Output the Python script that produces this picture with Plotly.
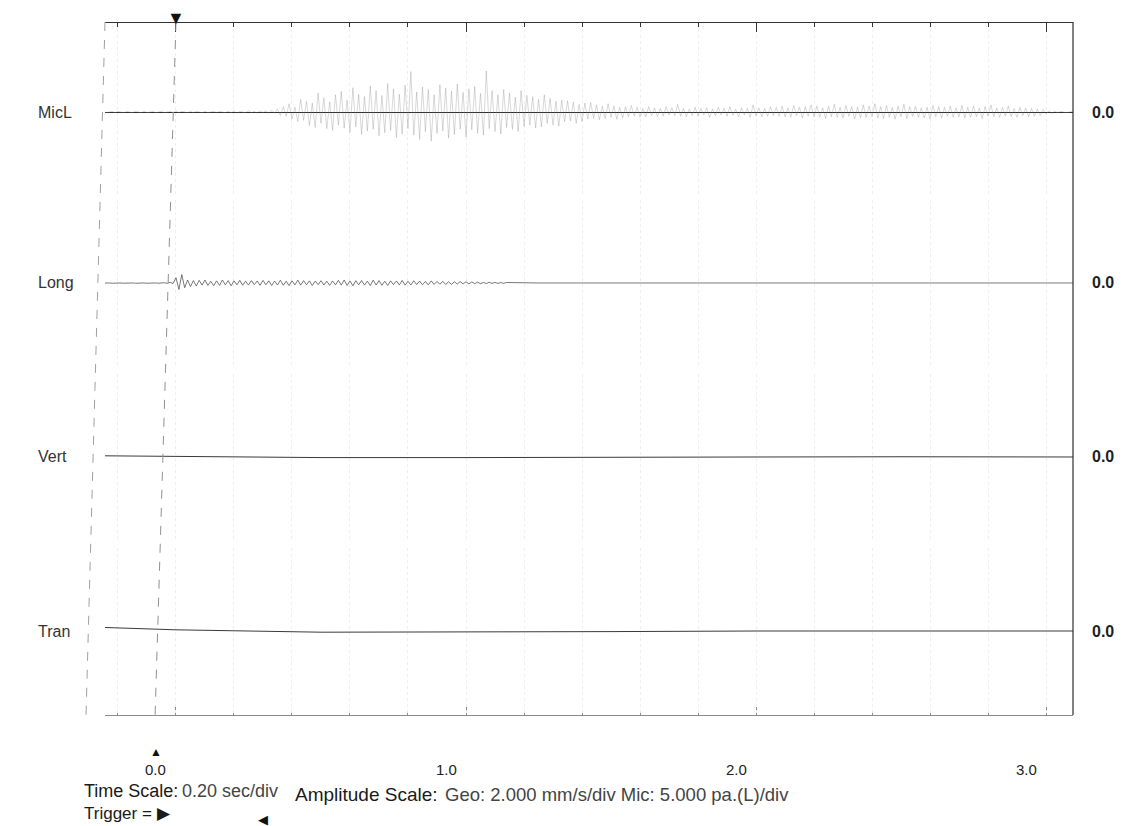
import numpy as np
import plotly.graph_objects as go

# ---------------- data ----------------
T_START = -0.25      # s, first sample
DT = 0.01            # s, sample spacing of the dense records

channels = ["MicL", "Long", "Vert", "Tran"]
zero_labels = ["0.0", "0.0", "0.0", "0.0"]
time_ticks = [0.0, 1.0, 2.0, 3.0]
time_tick_labels = ["0.0", "1.0", "2.0", "3.0"]

# MicL (pa), 336 samples from -0.25 s to 3.10 s
mic_v = [
    0.1, -0.1, 0.0, 0.1, -0.1, 0.1, 0.0, -0.1, 0.1, 0.0,
    -0.1, 0.1, 0.0, -0.1, 0.1, -0.1, 0.0, 0.1, -0.1, 0.0,
    0.1, -0.1, 0.0, 0.1, -0.1, 0.2, -0.1, 0.1, 0.0, -0.1,
    0.1, -0.1, 0.1, 0.0, -0.1, 0.1, -0.1, 0.0, 0.1, -0.1,
    0.1, 0.0, -0.1, 0.1, -0.1, 0.2, -0.2, 0.1, 0.0, -0.1,
    0.2, -0.1, 0.1, -0.2, 0.2, -0.1, 0.2, -0.2, 0.3, -0.2,
    0.5, -0.6, 0.9, -0.7, 1.4, -1.2, 0.8, -1.6, 2.1, -1.4,
    1.8, -2.3, 1.5, -2.6, 3.2, -1.9, 2.4, -2.8, 1.7, -3.1,
    2.9, -2.2, 3.5, -2.7, 2.0, -3.4, 4.1, -2.5, 3.0, -3.8,
    2.6, -3.2, 4.4, -2.9, 3.6, -4.0, 2.8, -3.5, 4.8, -3.1,
    3.9, -4.3, 3.0, -3.7, 4.5, -2.8, 6.8, -3.9, 3.4, -4.6,
    4.2, -3.3, 3.8, -4.9, 2.9, -3.6, 4.6, -3.2, 4.0, -4.4,
    3.5, -3.8, 4.7, -2.9, 3.3, -4.2, 3.9, -3.0, 4.3, -3.6,
    3.1, -3.9, 6.9, -2.8, 3.6, -3.3, 2.9, -3.7, 3.8, -2.6,
    3.2, -2.9, 2.5, -3.3, 3.6, -2.4, 2.8, -2.2, 2.6, -2.7,
    2.1, -2.5, 2.9, -1.9, 2.3, -2.2, 1.8, -2.4, 2.0, -1.6,
    1.9, -1.5, 1.7, -1.9, 1.3, -1.6, 1.5, -1.2, 1.6, -1.1,
    1.2, -1.3, 1.0, -1.1, 1.4, -0.9, 1.0, -1.2, 0.8, -1.0,
    0.9, -0.8, 1.1, -0.7, 0.8, -0.9, 0.6, -0.8, 0.9, -0.6,
    0.7, -0.8, 0.6, -0.7, 0.9, -0.5, 0.7, -0.6, 1.3, -0.7,
    0.6, -0.8, 0.5, -0.6, 0.8, -0.7, 0.6, -0.5, 0.7, -0.9,
    0.5, -0.6, 0.8, -0.5, 0.6, -0.7, 0.9, -0.6, 0.5, -0.8,
    0.7, -0.5, 0.6, -0.9, 1.2, -0.6, 0.7, -0.8, 0.6, -0.7,
    0.9, -0.6, 0.8, -0.7, 1.0, -0.8, 0.7, -0.9, 1.1, -0.6,
    0.8, -1.0, 0.9, -0.7, 1.2, -0.8, 1.0, -0.9, 0.7, -1.1,
    1.0, -0.8, 1.3, -0.9, 0.8, -1.0, 1.1, -0.7, 0.9, -1.2,
    0.8, -1.0, 1.2, -0.9, 1.0, -0.8, 1.4, -1.0, 0.9, -1.1,
    1.1, -0.9, 0.8, -1.2, 1.0, -0.8, 1.3, -1.1, 0.9, -0.7,
    1.0, -0.9, 0.7, -1.0, 0.8, -1.2, 1.1, -0.8, 0.9, -1.0,
    0.8, -0.7, 1.0, -0.9, 0.7, -0.8, 1.1, -1.0, 0.8, -0.9,
    1.0, -0.8, 0.7, -1.1, 0.9, -0.7, 1.2, -0.8, 0.7, -0.9,
    0.8, -0.7, 1.0, -0.8, 0.6, -0.9, 0.8, -0.6, 0.7, -0.8,
    0.6, -0.7, 0.5, -0.6, 0.4, -0.3, 0.2, -0.2, 0.1, -0.1,
    0.1, 0.0, -0.1, 0.0, 0.1, 0.0,
]

# Long (mm/s): dense samples from -0.25 s to 1.14 s, then quiet trace
long_v = [
    0.0, 0.02, 0.0, -0.02, 0.0, 0.02, 0.0, -0.02, 0.0, 0.02,
    0.0, -0.02, 0.0, 0.02, 0.0, -0.02, 0.0, 0.02, 0.0, -0.02,
    0.0, 0.02, -0.03, 0.05, -0.05, 0.45, -0.55, 0.70, -0.40, 0.25,
    -0.30, 0.20, -0.25, 0.22, -0.18, 0.25, -0.20, 0.15, -0.22, 0.18,
    -0.20, 0.25, -0.15, 0.20, -0.24, 0.18, -0.16, 0.22, -0.19, 0.15,
    -0.18, 0.20, -0.14, 0.17, -0.20, 0.22, -0.15, 0.18, -0.21, 0.16,
    -0.17, 0.23, -0.19, 0.15, -0.22, 0.18, -0.16, 0.24, -0.18, 0.20,
    -0.15, 0.18, -0.21, 0.16, -0.14, 0.19, -0.17, 0.15, -0.20, 0.17,
    -0.16, 0.22, -0.18, 0.25, -0.20, 0.17, -0.23, 0.19, -0.15, 0.21,
    -0.18, 0.16, -0.22, 0.24, -0.17, 0.20, -0.19, 0.15, -0.21, 0.18,
    -0.14, 0.17, -0.16, 0.21, -0.18, 0.14, -0.17, 0.19, -0.13, 0.16,
    -0.15, 0.13, -0.16, 0.18, -0.12, 0.14, -0.11, 0.15, -0.13, 0.10,
    -0.12, 0.10, -0.09, 0.12, -0.08, 0.10, -0.07, 0.09, -0.06, 0.07,
    -0.06, 0.05, -0.05, 0.06, -0.04, 0.05, -0.04, 0.04, -0.03, 0.04,
]
long_tail_t = [1.25, 1.6, 2.0, 2.4, 2.8, 3.1]
long_tail_v = [0.0, 0.01, 0.0, -0.01, 0.0, 0.0]

# Vert and Tran (mm/s): essentially flat traces with slight drift
vert_t = [-0.25, 0.0, 0.5, 1.0, 1.5, 2.0, 2.5, 3.0, 3.1]
vert_v = [0.10, 0.05, -0.05, -0.05, 0.0, 0.0, 0.02, 0.02, 0.0]
tran_t = [-0.25, 0.0, 0.5, 1.0, 1.5, 2.0, 2.5, 3.0, 3.1]
tran_v = [0.30, 0.10, -0.10, -0.10, -0.05, 0.0, 0.02, 0.0, 0.0]

footer_time = ("Time Scale:", "0.20 sec/div")
footer_amp = ("Amplitude Scale:", "Geo: 2.000 mm/s/div Mic: 5.000 pa.(L)/div")
footer_trigger = "Trigger = ▶"

mic_t = T_START + DT * np.arange(len(mic_v))
long_t = list(T_START + DT * np.arange(len(long_v))) + long_tail_t
long_all = long_v + long_tail_v

# ---------------- figure ----------------
FONT = "Liberation Sans, Arial, sans-serif"
X_RANGE = [-0.2448, 3.0931]
MIC_RANGE = [-14, 14]
GEO_RANGE = [-7, 7]
domains = [[0.7501, 0.9901], [0.5034, 0.7434], [0.2523, 0.4923], [0.0012, 0.2412]]

fig = go.Figure()
fig.add_trace(go.Scatter(x=mic_t, y=mic_v, mode="lines", xaxis="x", yaxis="y",
                         line=dict(color="rgba(130,130,130,0.45)", width=0.7),
                         showlegend=False, hoverinfo="skip"))
fig.add_trace(go.Scatter(x=long_t, y=long_all, mode="lines", xaxis="x", yaxis="y2",
                         line=dict(color="#555555", width=0.8),
                         showlegend=False, hoverinfo="skip"))
fig.add_trace(go.Scatter(x=vert_t, y=vert_v, mode="lines", xaxis="x", yaxis="y3",
                         line=dict(color="#3a3a3a", width=1.0),
                         showlegend=False, hoverinfo="skip"))
fig.add_trace(go.Scatter(x=tran_t, y=tran_v, mode="lines", xaxis="x", yaxis="y4",
                         line=dict(color="#3a3a3a", width=1.0),
                         showlegend=False, hoverinfo="skip"))
# invisible trace so the top time axis is drawn
fig.add_trace(go.Scatter(x=[0], y=[0], mode="markers", xaxis="x2", yaxis="y",
                         marker=dict(size=1, opacity=0), showlegend=False, hoverinfo="skip"))

common_y = dict(showticklabels=False, showgrid=False, showline=False, ticks="",
                anchor="x", fixedrange=True)


def time_axis(color):
    return dict(range=X_RANGE, showticklabels=False, showline=True, linecolor=color,
                linewidth=1, ticks="inside", dtick=1, tick0=0, ticklen=9, tickcolor=color,
                minor=dict(dtick=0.2, tick0=0, ticks="inside", ticklen=4, tickcolor=color,
                           showgrid=True, gridcolor="#eeeeee", griddash="dot", gridwidth=1),
                showgrid=True, gridcolor="#eeeeee", griddash="dot", zeroline=False)


fig.update_layout(
    width=1123, height=826,
    margin=dict(l=105, r=50, t=22, b=111),
    paper_bgcolor="white", plot_bgcolor="white",
    font=dict(family=FONT, color="#222"),
    xaxis=dict(**time_axis("#8a8a8a"), anchor="free", position=0),
    xaxis2=dict(**time_axis("#333333"), matches="x", overlaying="x", side="top",
                anchor="free", position=1),
    yaxis=dict(domain=domains[0], range=MIC_RANGE, zeroline=True, zerolinecolor="#2e2e2e",
               zerolinewidth=1.2, **common_y),
    yaxis2=dict(domain=domains[1], range=GEO_RANGE, zeroline=False, **common_y),
    yaxis3=dict(domain=domains[2], range=GEO_RANGE, zeroline=False, **common_y),
    yaxis4=dict(domain=domains[3], range=GEO_RANGE, zeroline=False, **common_y),
)

shapes = [
    # right border
    dict(type="line", xref="paper", yref="paper", x0=1, x1=1, y0=0, y1=1,
         line=dict(color="#2e2e2e", width=1.2)),
    # left border (scan is slightly sheared)
    dict(type="line", xref="paper", yref="paper", x0=0, x1=-0.0196, y0=1, y1=0,
         line=dict(color="#a0a0a0", width=1, dash="dash")),
    # trigger line
    dict(type="line", xref="x", yref="paper", x0=0, x1=-0.072, y0=1, y1=0,
         line=dict(color="#909090", width=1, dash="dash")),
]
fig.update_layout(shapes=shapes)

ann = []
yrefs = ["y", "y2", "y3", "y4"]
for name, zl, yr in zip(channels, zero_labels, yrefs):
    ann.append(dict(text=name, xref="paper", x=-0.0713, xanchor="left", yref=yr, y=0,
                    yanchor="middle", showarrow=False, font=dict(size=16, color="#333")))
    ann.append(dict(text="<b>" + zl + "</b>", xref="paper", x=1.0176, xanchor="left", yref=yr, y=0,
                    yanchor="middle", showarrow=False, font=dict(size=16, color="#1e1e1e")))
for tv, tl in zip(time_ticks, time_tick_labels):
    ann.append(dict(text=tl, xref="x", x=tv, xshift=-20, yref="paper", y=-0.079, yanchor="middle",
                    showarrow=False, font=dict(size=15, color="#222")))
# trigger markers
ann.append(dict(text="▼", xref="x", x=0, yref="paper", y=1, yanchor="bottom", yshift=-8,
                showarrow=False, font=dict(size=18, color="#111")))
ann.append(dict(text="▲", xref="x", x=0, xshift=-20, yref="paper", y=-0.053, yanchor="middle",
                showarrow=False, font=dict(size=12, color="#111")))
# footer
ann.append(dict(text=footer_time[0], xref="paper", x=-0.0238, xanchor="left",
                yref="paper", y=-0.1100, yanchor="middle",
                showarrow=False, font=dict(size=18, color="#1a1a1a")))
ann.append(dict(text=footer_time[1], xref="paper", x=0.0775, xanchor="left",
                yref="paper", y=-0.1100, yanchor="middle",
                showarrow=False, font=dict(size=18, color="#444")))
ann.append(dict(text=footer_amp[0], xref="paper", x=0.1942, xanchor="left",
                yref="paper", y=-0.1140, yanchor="middle",
                showarrow=False, font=dict(size=19, color="#1a1a1a")))
ann.append(dict(text=footer_amp[1], xref="paper", x=0.3492, xanchor="left",
                yref="paper", y=-0.1140, yanchor="middle",
                showarrow=False, font=dict(size=18.5, color="#444")))
ann.append(dict(text=footer_trigger, xref="paper", x=-0.0238, xanchor="left", yref="paper",
                y=-0.1420, yanchor="middle", showarrow=False, font=dict(size=17, color="#1a1a1a")))
ann.append(dict(text="◀", xref="paper", x=0.1632, xanchor="center", yref="paper", y=-0.151,
                yanchor="middle", showarrow=False, font=dict(size=13, color="#111")))
fig.update_layout(annotations=ann)

fig.write_html("out.html", post_script="document.body.style.margin='0px';",
               config={"displayModeBar": False})
